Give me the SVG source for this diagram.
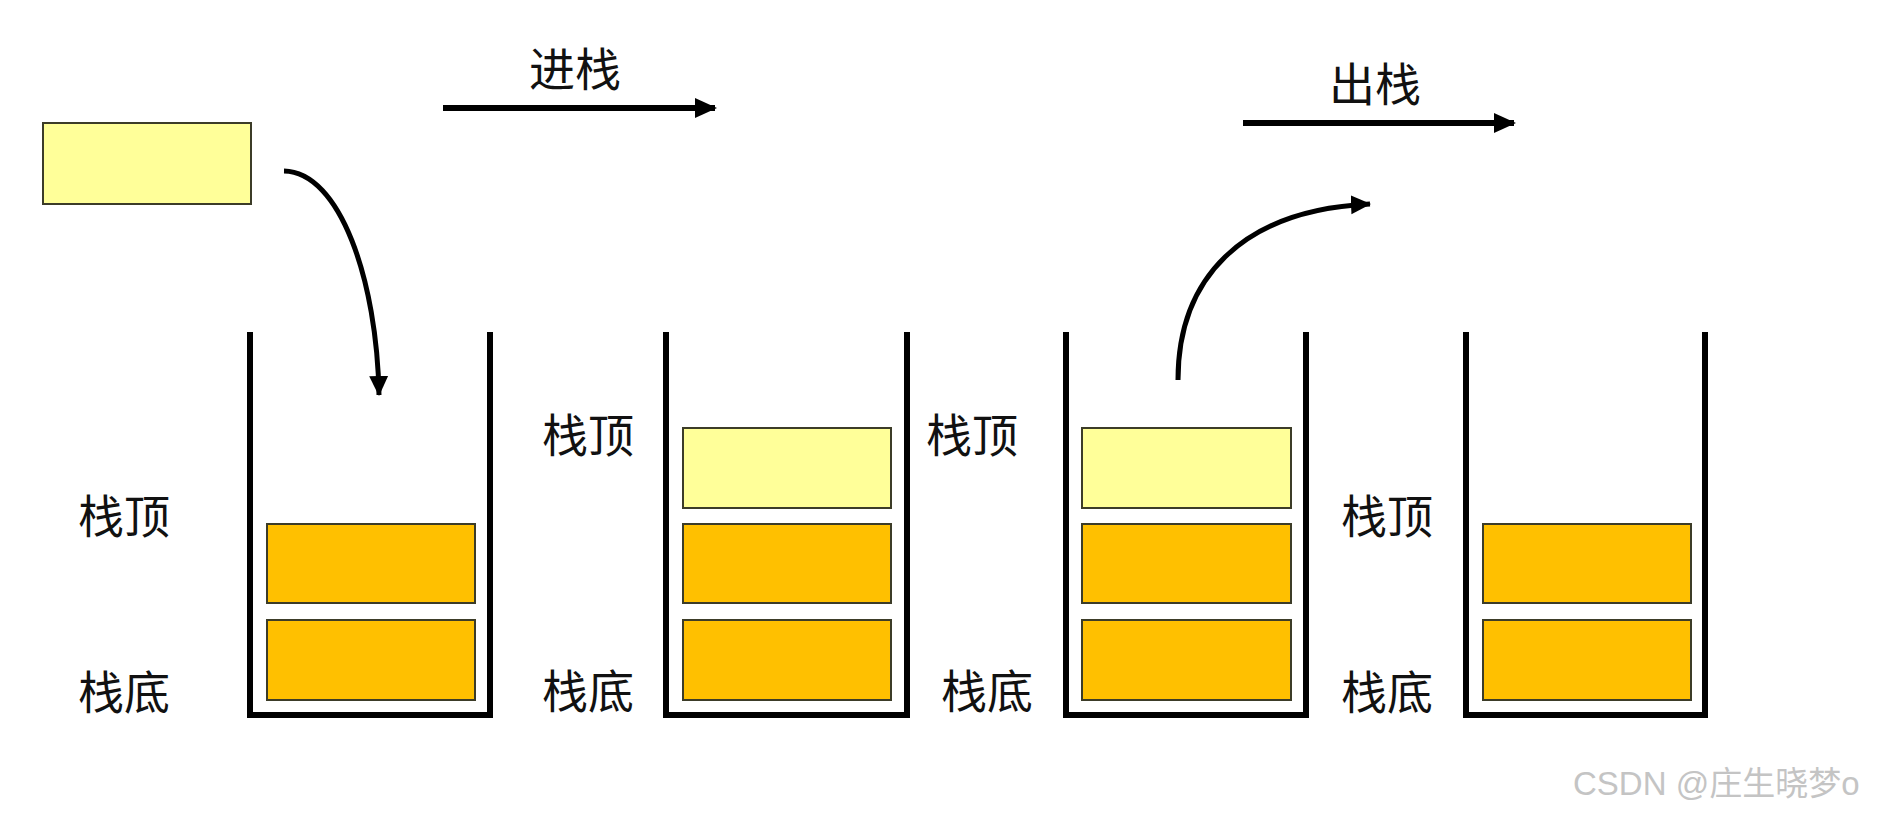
<svg xmlns="http://www.w3.org/2000/svg" width="1878" height="814" viewBox="0 0 1878 814">
<defs>
<marker id="ah" markerUnits="userSpaceOnUse" markerWidth="22" markerHeight="22" viewBox="0 0 22 22" refX="20" refY="11" orient="auto">
<path d="M0,1 L22,11 L0,21 Z" fill="#000"/>
</marker>
<marker id="ahs" markerUnits="userSpaceOnUse" markerWidth="20" markerHeight="20" viewBox="0 0 20 20" refX="19" refY="10" orient="auto">
<path d="M0,0.5 L20,10 L0,19.5 Z" fill="#000"/>
</marker>
</defs>
<style>
.wall{fill:none;stroke:#000;stroke-width:6;stroke-linejoin:miter}
.y{fill:#FFFF99;stroke:#3c3c28;stroke-width:2}
.o{fill:#FFC000;stroke:#3c3c28;stroke-width:2}
.lbl{font-family:"Noto Sans CJK SC","Noto Sans CJK JP",sans-serif;font-size:46px;fill:#111}
.ttl{font-family:"Noto Sans CJK SC","Noto Sans CJK JP",sans-serif;font-size:46px;fill:#111;text-anchor:middle}
.arr{fill:none;stroke:#000;stroke-width:6}
.carr{fill:none;stroke:#000;stroke-width:5}
.wm{font-family:"Liberation Sans","Noto Sans CJK SC",sans-serif;font-size:33px;fill:#c4c4c4}
</style>
<rect width="1878" height="814" fill="#fff"/>

<g id="incoming">
<rect class="y" x="43" y="123" width="208" height="81"/>
</g>

<g id="stack1">
<path class="wall" d="M250,332 V715 H490 V332"/>
<rect class="o" x="267" y="524" width="208" height="79"/>
<rect class="o" x="267" y="620" width="208" height="80"/>
<text class="lbl" x="78" y="533">栈顶</text>
<text class="lbl" x="78" y="709">栈底</text>
</g>

<g id="stack2">
<path class="wall" d="M666,332 V715 H907 V332"/>
<rect class="y" x="683" y="428" width="208" height="80"/>
<rect class="o" x="683" y="524" width="208" height="79"/>
<rect class="o" x="683" y="620" width="208" height="80"/>
<text class="lbl" x="542" y="452">栈顶</text>
<text class="lbl" x="542" y="708">栈底</text>
</g>

<g id="stack3">
<path class="wall" d="M1066,332 V715 H1306 V332"/>
<rect class="y" x="1082" y="428" width="209" height="80"/>
<rect class="o" x="1082" y="524" width="209" height="79"/>
<rect class="o" x="1082" y="620" width="209" height="80"/>
<text class="lbl" x="926" y="452">栈顶</text>
<text class="lbl" x="941" y="708">栈底</text>
</g>

<g id="stack4">
<path class="wall" d="M1466,332 V715 H1705 V332"/>
<rect class="o" x="1483" y="524" width="208" height="79"/>
<rect class="o" x="1483" y="620" width="208" height="80"/>
<text class="lbl" x="1341" y="533">栈顶</text>
<text class="lbl" x="1341" y="709">栈底</text>
</g>

<g id="titles">
<text class="ttl" x="575" y="86">进栈</text>
<text class="ttl" x="1375" y="101">出栈</text>
</g>

<g id="connectors">
<path class="arr" d="M443,108 H715" marker-end="url(#ah)"/>
<path class="arr" d="M1243,123 H1514" marker-end="url(#ah)"/>
<path class="carr" d="M284,171 C340,172 377,280 379,395" marker-end="url(#ahs)"/>
<path class="carr" d="M1178,380 C1178,280 1240,210 1370,204" marker-end="url(#ahs)"/>
</g>

<text class="wm" x="1573" y="795">CSDN @庄生晓梦o</text>
</svg>
